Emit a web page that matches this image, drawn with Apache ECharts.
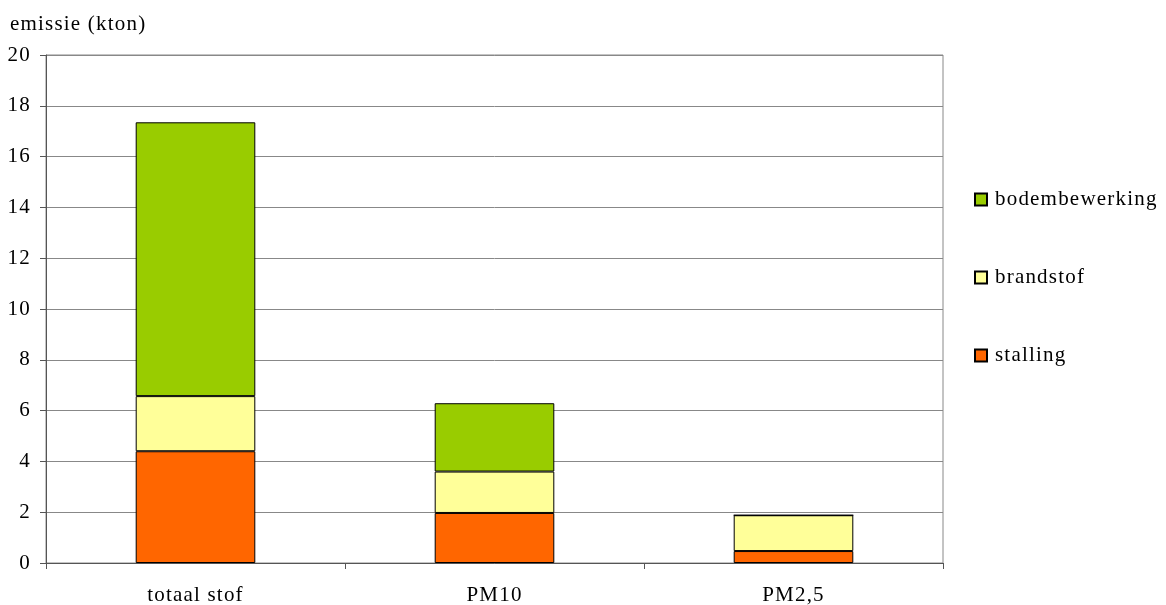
<!DOCTYPE html>
<html>
<head>
<meta charset="utf-8">
<script src="https://cdn.jsdelivr.net/npm/echarts@6/dist/echarts.min.js"></script>
<style>html,body{margin:0;padding:0;background:#fff;}#c{width:1166px;height:605px;}</style>
</head>
<body>
<div id="c"></div>
<script>
const categories = ['totaal stof', 'PM10', 'PM2,5'];
const stalling = [4.4, 1.97, 0.47];
const brandstof = [2.17, 1.63, 1.41];
const bodembewerking = [10.78, 2.69, 0];
const yTicks = [0, 2, 4, 6, 8, 10, 12, 14, 16, 18, 20];

// slightly tracked text, as in the reference rendering
const origFillText = CanvasRenderingContext2D.prototype.fillText;
CanvasRenderingContext2D.prototype.fillText = function () {
  try { this.letterSpacing = '1.2px'; } catch (e) {}
  return origFillText.apply(this, arguments);
};

const font = 'Liberation Serif';
const chart = echarts.init(document.getElementById('c'));
const barStyle = (c) => ({ color: c, borderColor: '#000', borderWidth: 1 });
chart.setOption({
  animation: false,
  textStyle: { fontFamily: font },
  title: { text: 'emissie (kton)', left: 10, top: 14, padding: 0, textStyle: { fontFamily: font, fontSize: 21, fontWeight: 'normal', color: '#000' } },
  grid: { left: 46, right: 223, top: 55, bottom: 42, show: true, borderColor: '#888', borderWidth: 1, containLabel: false, outerBoundsMode: 'none' },
  legend: {
    orient: 'vertical', left: 974, top: 189, itemGap: 57, padding: 0,
    itemWidth: 12, itemHeight: 12, icon: 'rect',
    data: ['bodembewerking', 'brandstof', 'stalling'],
    textStyle: { fontFamily: font, fontSize: 21, color: '#000', padding: [0, 0, 0, 3] }
  },
  xAxis: {
    type: 'category', data: categories,
    axisLine: { lineStyle: { color: '#555' } },
    axisTick: { show: true, length: 6, lineStyle: { color: '#555' } },
    axisLabel: { color: '#000', fontSize: 21, fontFamily: font, margin: 22 }
  },
  yAxis: {
    type: 'value', min: 0, max: 20, interval: 2,
    axisLine: { show: true, lineStyle: { color: '#555' } },
    axisTick: { show: true, length: 6, lineStyle: { color: '#555' } },
    axisLabel: { color: '#000', fontSize: 21, fontFamily: font, margin: 15 },
    splitLine: { lineStyle: { color: '#888' } }
  },
  series: [
    { name: 'stalling', type: 'bar', stack: 's', barWidth: '40%', data: stalling, itemStyle: barStyle('#FF6600') },
    { name: 'brandstof', type: 'bar', stack: 's', data: brandstof, itemStyle: barStyle('#FFFF99') },
    { name: 'bodembewerking', type: 'bar', stack: 's', data: bodembewerking, itemStyle: barStyle('#99CC00') }
  ]
});
</script>
</body>
</html>
